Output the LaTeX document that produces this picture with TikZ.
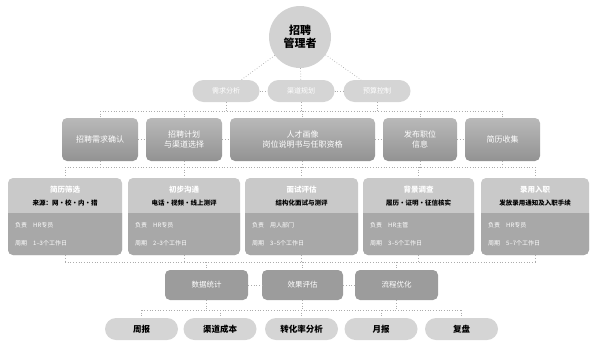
\documentclass[tikz,border=0pt]{standalone}
\usepackage{fontspec}
\newfontfamily\cjk{Noto Sans CJK SC}
\begin{document}
\begin{tikzpicture}[x=1pt,y=-1pt,
  every node/.style={font=\cjk, inner sep=0pt, align=center},
  conn/.style={draw=gray!65, dotted, line width=0.7pt},
  topcirc/.style={circle, fill=gray!35, minimum size=62pt, text=black, font=\cjk\bfseries\fontsize{11}{13}\selectfont},
  toppill/.style={rectangle, rounded corners=11pt, fill=gray!33, minimum width=67pt, minimum height=22pt, text=white, font=\cjk\fontsize{7}{8}\selectfont},
  stagebox/.style={rectangle, rounded corners=5pt, top color=gray!55, bottom color=gray!85, minimum height=43pt, text=white, font=\cjk\fontsize{8}{10}\selectfont},
  cardbox/.style={rectangle, rounded corners=5pt, fill=gray!42, minimum height=77pt},
  cardtitle/.style={text=white, font=\cjk\bfseries\fontsize{7.5}{9}\selectfont},
  cardsub/.style={text=black, font=\cjk\bfseries\fontsize{6.5}{8}\selectfont},
  cardrow/.style={text=white, anchor=west, font=\cjk\fontsize{6}{7}\selectfont},
  darkbox/.style={rectangle, rounded corners=5pt, fill=gray!78, minimum height=30pt, text=white, font=\cjk\fontsize{7.5}{9}\selectfont},
  botpill/.style={rectangle, rounded corners=11pt, fill=gray!33, minimum width=73pt, minimum height=22pt, text=black, font=\cjk\bfseries\fontsize{8.5}{10}\selectfont}
]
\useasboundingbox (0,0) rectangle (591,343);

\newcommand\mycard[9]{%
  \pgfmathsetmacro\cx{(#2+#3)/2}%
  \pgfmathsetmacro\cw{#3-#2}%
  \node[cardbox, minimum width=\cw pt] (#1) at (\cx,216.5) {};
  \fill[gray!68] (#2,213) {[rounded corners=5pt] -- (#2,255) -- (#3,255)} -- (#3,213) -- cycle;
  \node[cardtitle] (#1t) at (\cx,190) {#4};
  \node[cardsub] (#1s) at (\cx,203) {#5};
  \node[cardrow] (#1a) at (#2+7,225) {#6\quad #7};
  \node[cardrow] (#1b) at (#2+7,243) {#8\quad #9};
}

% top
\node[topcirc] (top) at (300,37) {招聘\\管理者};
\node[toppill] (p1) at (226,91) {需求分析};
\node[toppill] (p2) at (301,91) {渠道规划};
\node[toppill] (p3) at (377,91) {预算控制};

% stage boxes
\node[stagebox, minimum width=76pt] (r1) at (100,139.5) {招聘需求确认};
\node[stagebox, minimum width=76pt] (r2) at (184,139.5) {招聘计划\\与渠道选择};
\node[stagebox, minimum width=145pt] (r3) at (302.5,139.5) {人才画像\\岗位说明书与任职资格};
\node[stagebox, minimum width=74pt] (r4) at (420,139.5) {发布职位\\信息};
\node[stagebox, minimum width=75pt] (r5) at (502.5,139.5) {简历收集};

% cards
\mycard{c1}{8}{122}{简历筛选}{来源：网·校·内·猎}{负责}{HR专员}{周期}{1–3个工作日}
\mycard{c2}{128}{240}{初步沟通}{电话·视频·线上测评}{负责}{HR专员}{周期}{2–3个工作日}
\mycard{c3}{245}{358}{面试评估}{结构化面试与测评}{负责}{用人部门}{周期}{3–5个工作日}
\mycard{c4}{363}{474}{背景调查}{履历·证明·征信核实}{负责}{HR主管}{周期}{3–5个工作日}
\mycard{c5}{481}{589}{录用入职}{发放录用通知及入职手续}{负责}{HR专员}{周期}{5–7个工作日}

% bottom
\node[darkbox, minimum width=83pt] (d1) at (206.5,285) {数据统计};
\node[darkbox, minimum width=81pt] (d2) at (302.5,285) {效果评估};
\node[darkbox, minimum width=83pt] (d3) at (396.5,285) {流程优化};

\node[botpill] (q1) at (141.5,329) {周报};
\node[botpill] (q2) at (220,329) {渠道成本};
\node[botpill] (q3) at (301.5,329) {转化率分析};
\node[botpill] (q4) at (381,329) {月报};
\node[botpill] (q5) at (461.5,329) {复盘};

% buses
\coordinate (b1l) at (100,111); \coordinate (b1r) at (502.5,111);
\coordinate (b2l) at (65,167);  \coordinate (b2r) at (535,167);
\coordinate (b3l) at (65,262);  \coordinate (b3r) at (535,262);
\coordinate (b4l) at (141.5,310); \coordinate (b4r) at (461.5,310);

\draw[conn] (top) -- (p1);
\draw[conn] (top) -- (p2);
\draw[conn] (top) -- (p3);
\draw[conn] (p1) -- (p2);
\draw[conn] (p2) -- (p3);

\draw[conn] (b1l) -- (b1r);
\foreach \n in {p1,p2,p3} \draw[conn] (\n.south) -- (\n.south |- b1l);
\foreach \n in {r1,r2,r3,r4,r5} \draw[conn] (\n.north |- b1l) -- (\n.north);
\draw[conn] (r1) -- (r2);
\draw[conn] (r2) -- (r3);
\draw[conn] (r3) -- (r4);
\draw[conn] (r4) -- (r5);

\draw[conn] (b2l) -- (b2r);
\foreach \n in {r1,r2,r3,r4,r5} \draw[conn] (\n.south) -- (\n.south |- b2l);
\foreach \n in {c1,c2,c3,c4,c5} \draw[conn] (\n.north |- b2l) -- (\n.north);

\draw[conn] (b3l) -- (b3r);
\foreach \n in {c1,c2,c3,c4,c5} \draw[conn] (\n.south) -- (\n.south |- b3l);
\foreach \n in {d1,d2,d3} \draw[conn] (\n.north |- b3l) -- (\n.north);
\draw[conn] (d1) -- (d2);
\draw[conn] (d2) -- (d3);

\draw[conn] (b4l) -- (b4r);
\foreach \n in {d1,d2,d3} \draw[conn] (\n.south) -- (\n.south |- b4l);
\foreach \n in {q1,q2,q3,q4,q5} \draw[conn] (\n.north |- b4l) -- (\n.north);
\end{tikzpicture}
\end{document}
